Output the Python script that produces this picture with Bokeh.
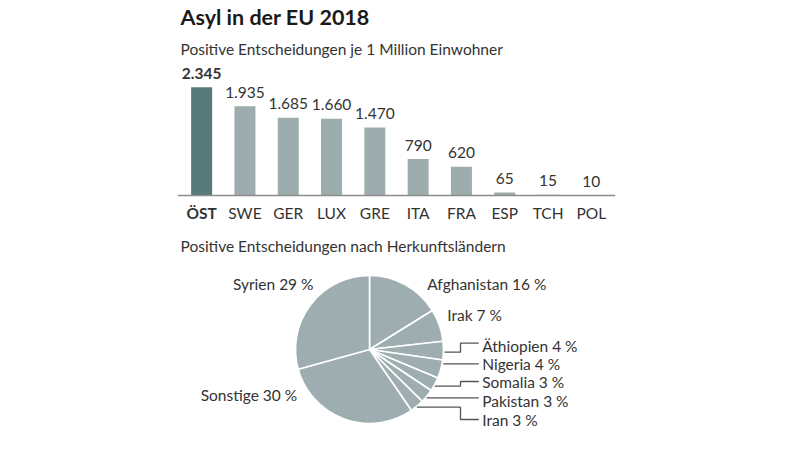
import math
from bokeh.plotting import figure
from bokeh.models import Range1d, FactorRange, Label, ColumnDataSource, Span
from bokeh.layouts import column
from bokeh.embed import file_html
from bokeh.resources import INLINE
from bokeh.core.properties import value

# ---------------- data ----------------
title_text = "Asyl in der EU 2018"
bar_subtitle = "Positive Entscheidungen je 1 Million Einwohner"
countries = ["ÖST", "SWE", "GER", "LUX", "GRE", "ITA", "FRA", "ESP", "TCH", "POL"]
per_million = [2345, 1935, 1685, 1660, 1470, 790, 620, 65, 15, 10]
highlight = "ÖST"

pie_subtitle = "Positive Entscheidungen nach Herkunftsländern"
origins = ["Afghanistan", "Irak", "Äthiopien", "Nigeria", "Somalia",
           "Pakistan", "Iran", "Sonstige", "Syrien"]
shares = [16, 7, 4, 4, 3, 3, 3, 30, 29]

# ---------------- styles ----------------
FONT = "Lato"
FS = "15.5px"
DARK = "#577a7a"
LIGHT = "#9dadad"
PIE = "#9eaeb0"
TXT = "#333333"
AXIS = "#8c8c8c"

K = 108.3 / 2345.0  # px per unit

def de_num(v):
    return f"{v:,}".replace(",", ".")

# ---------------- bar chart ----------------
# frame spans page x 177..615, y 0..230
p1 = figure(width=800, height=230,
            x_range=FactorRange(*countries, range_padding=0.0115),
            y_range=Range1d(-35 / K, 195 / K),
            output_backend="svg", toolbar_location=None, title=None,
            x_axis_location=None, y_axis_location=None,
            min_border_left=177, min_border_right=185,
            min_border_top=0, min_border_bottom=0,
            outline_line_color=None, background_fill_color="white",
            border_fill_color="white")
p1.grid.grid_line_color = None

src = ColumnDataSource(dict(
    country=countries,
    value=per_million,
    label=[de_num(v) for v in per_million],
    color=[DARK if c == highlight else LIGHT for c in countries],
    style=["bold" if c == highlight else "normal" for c in countries],
))
p1.vbar(x="country", top="value", width=0.485, bottom=0, source=src,
        fill_color="color", line_color=None)
p1.add_layout(Span(location=0, dimension="width", line_color=AXIS, line_width=1.5))
p1.text(x="country", y="value", text="label", source=src,
        text_align="center", text_baseline="middle", y_offset=-14,
        text_font=value(FONT), text_font_size=FS, text_font_style="style",
        text_color=TXT)
p1.text(x="country", y=0, text="country", source=src,
        text_align="center", text_baseline="middle", y_offset=17,
        text_font=value(FONT), text_font_size=FS, text_font_style="style",
        text_color=TXT)

# screen units: relative to frame bottom-left (frame bottom = page y 230, left = 177)
p1.add_layout(Label(x=3, y=230 - 16, x_units="screen", y_units="screen", text=title_text,
                    text_font=FONT, text_font_size="21.5px", text_font_style="bold",
                    text_color="#1a1a1a", text_baseline="middle"))
p1.add_layout(Label(x=3, y=230 - 48, x_units="screen", y_units="screen", text=bar_subtitle,
                    text_font=FONT, text_font_size=FS,
                    text_color=TXT, text_baseline="middle"))

# ---------------- pie chart ----------------
# frame spans page x 177..615, y 230..452 (data units = page pixels, y negated)
p2 = figure(width=800, height=222,
            x_range=Range1d(177, 615), y_range=Range1d(-452, -230),
            output_backend="svg", toolbar_location=None, title=None,
            x_axis_location=None, y_axis_location=None,
            min_border_left=177, min_border_right=185,
            min_border_top=0, min_border_bottom=0, outline_line_color=None,
            background_fill_color="white", border_fill_color="white")
p2.grid.grid_line_color = None

CX, CY, R = 369, -349, 74
total = float(sum(shares))
starts, ends = [], []
cum = 0.0
for s in shares:
    a0 = math.pi / 2 - 2 * math.pi * cum / total
    a1 = math.pi / 2 - 2 * math.pi * (cum + s) / total
    starts.append(a0); ends.append(a1)
    cum += s
psrc = ColumnDataSource(dict(origin=origins, share=shares, start=starts, end=ends))
p2.wedge(x=CX, y=CY, radius=R, start_angle="start", end_angle="end",
         direction="clock", source=psrc, fill_color=PIE,
         line_color="white", line_width=1.6)

p2.add_layout(Label(x=180, y=-245, text=pie_subtitle, text_font=FONT,
                    text_font_size=FS, text_color=TXT, text_baseline="middle"))

labels = [f"{o} {s} %" for o, s in zip(origins, shares)]
big = {
    "Afghanistan": (426.7, -283, "left"),
    "Irak": (446.7, -314, "left"),
    "Sonstige": (296.7, -394, "right"),
    "Syrien": (313, -283, "right"),
}
small = {  # label y, leader start y, leader end y
    "Äthiopien": (-345, -351.7, -342.7),
    "Nigeria": (-363.3, -363.3, -363.3),
    "Somalia": (-381.7, -385.7, -381.0),
    "Pakistan": (-400.7, -397.3, -397.3),
    "Iran": (-419, -406.7, -419.0),
}
xs, ys = [], []
for o, lab in zip(origins, labels):
    if o in big:
        x, y, al = big[o]
        p2.add_layout(Label(x=x, y=y, text=lab, text_font=FONT, text_font_size=FS,
                            text_color=TXT, text_baseline="middle", text_align=al))
    else:
        ly, sy, ey = small[o]
        sx = CX + math.sqrt(max(R * R - (sy - CY) ** 2, 0)) + 1
        xs.append([sx, 460, 460, 478.3])
        ys.append([sy, sy, ey, ey])
        p2.add_layout(Label(x=481.7, y=ly, text=lab, text_font=FONT, text_font_size=FS,
                            text_color=TXT, text_baseline="middle", text_align="left"))
p2.multi_line(xs=xs, ys=ys, line_color="#555555", line_width=1.3)

layout = column(p1, p2, spacing=0)
with open("out.html", "w") as f:
    f.write(file_html(layout, INLINE))
